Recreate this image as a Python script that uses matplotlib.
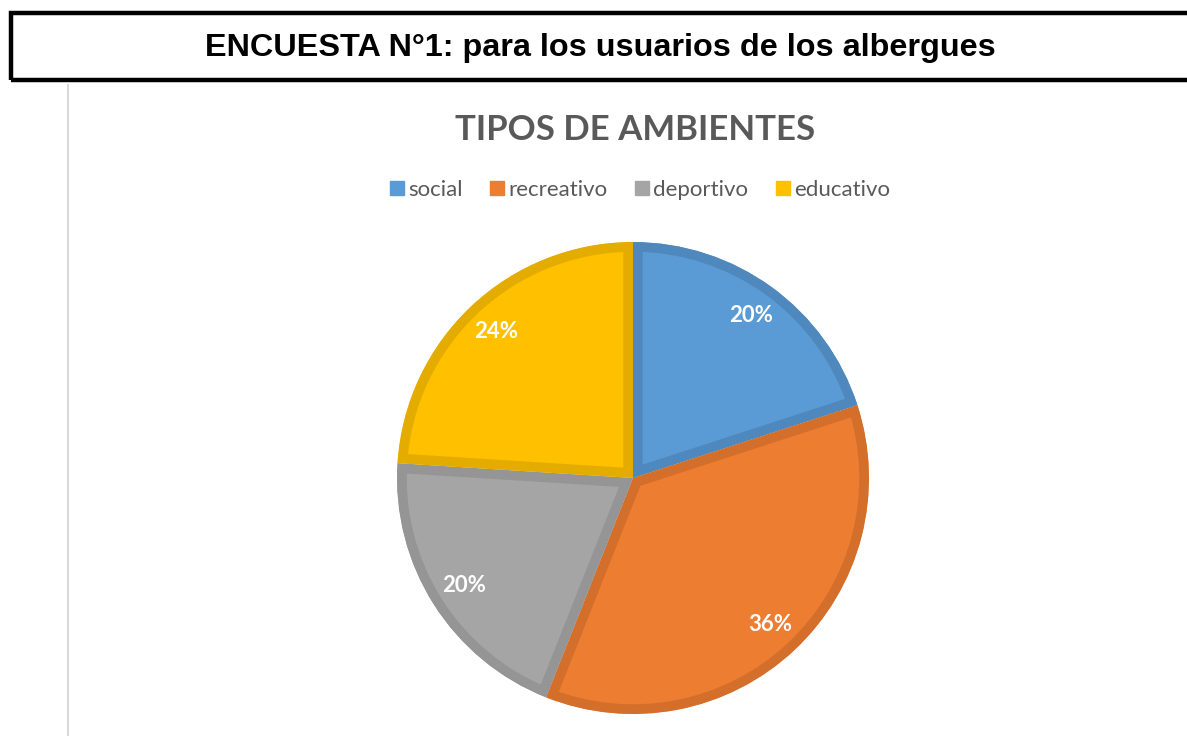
import matplotlib.pyplot as plt
from matplotlib.patches import Rectangle
from matplotlib.lines import Line2D

# Datos de la encuesta
categorias = ["social", "recreativo", "deportivo", "educativo"]
porcentajes = [20, 36, 20, 24]
colores = ["#5B9BD5", "#ED7D31", "#A5A5A5", "#FFC000"]
bordes = ["#4F88BD", "#D46F2B", "#959595", "#E5AC00"]

W, H = 1187, 736
fig = plt.figure(figsize=(W / 100, H / 100), dpi=100)

# Recuadro de la cabecera
fig.patches.append(Rectangle((11 / W, 1 - 80 / H), 1.0, 67 / H, transform=fig.transFigure,
                             fill=False, edgecolor="black", linewidth=3.2))
fig.text(600 / W, 1 - 48 / H, "ENCUESTA N°1: para los usuarios de los albergues",
         ha="center", va="center", fontsize=23.3, fontweight="bold",
         family="Liberation Sans", color="black")

# Linea gris vertical a la izquierda
fig.add_artist(Line2D([68 / W, 68 / W], [0, 1 - 85 / H], transform=fig.transFigure,
                      color="#D9D9D9", linewidth=1.5))

# Titulo y leyenda del grafico
fig.text(635 / W, 1 - 130 / H, "TIPOS DE AMBIENTES", ha="center", va="center",
         fontsize=25, fontweight="bold", family="Lato", color="#595959")

handles = [Line2D([], [], marker="s", linestyle="", markersize=10,
                  markerfacecolor=c, markeredgecolor=c) for c in colores]
fig.legend(handles, categorias, loc="center", bbox_to_anchor=(639 / W, 1 - 190 / H),
           ncol=4, frameon=False, handletextpad=0.1, columnspacing=1.15,
           prop={"family": "Lato", "size": 16}, labelcolor="#595959", handlelength=0.8)

# Tarta
cx, cy, R = 633, 736 - 478, 240
ax = fig.add_axes([(cx - R) / W, (cy - R) / H, 2 * R / W, 2 * R / H])
wedges, textos, autotextos = ax.pie(porcentajes, colors=colores, startangle=90, counterclock=False,
                                    radius=236 / 240, autopct="%1.0f%%", pctdistance=0.85,
                                    textprops={"color": "white", "fontsize": 16,
                                               "fontweight": "bold", "family": "Lato"})
for w, b in zip(wedges, bordes):
    w.set_edgecolor(b)
    w.set_linewidth(14)
    w.set_clip_on(True)
    w.set_clip_path(w)
ax.set_xlim(-1, 1)
ax.set_ylim(-1, 1)
ax.set_aspect("equal")
ax.axis("off")

fig.savefig("out.png", dpi=100)
